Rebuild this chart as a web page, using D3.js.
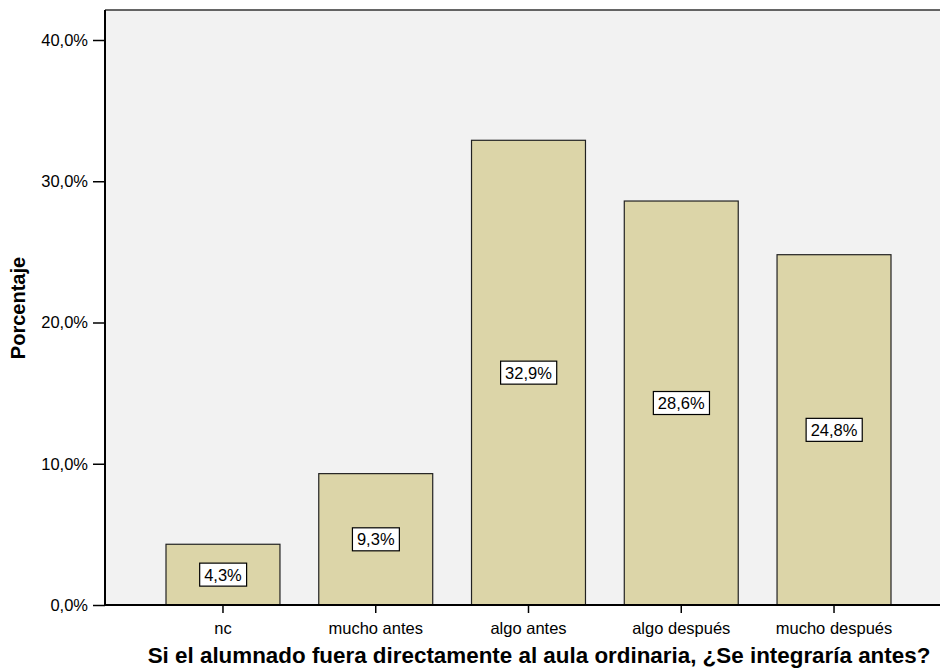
<!DOCTYPE html>
<html>
<head>
<meta charset="utf-8">
<script src="https://cdn.jsdelivr.net/npm/d3@7"></script>
<style>
  html, body { margin: 0; padding: 0; background: #fff; }
  svg { display: block; font-family: Arial, "Liberation Sans", sans-serif; }
</style>
</head>
<body>
<svg id="chart" width="940" height="668"></svg>
<script>
// Survey answers and their percentages
const categories = ["nc", "mucho antes", "algo antes", "algo después", "mucho después"];
const percentages = [4.3, 9.3, 32.9, 28.6, 24.8];
const yTicks = [0, 10, 20, 30, 40];
const yTitle = "Porcentaje";
const xTitle = "Si el alumnado fuera directamente al aula ordinaria, ¿Se integraría antes?";

const svg = d3.select("#chart");
const FONT = "Arial, 'Liberation Sans', sans-serif";
const plot = { left: 105, right: 940, top: 10, bottom: 605 };

const fmt = v => d3.format(".1f")(v).replace(".", ",") + "%";

const y = d3.scaleLinear().domain([0, 40]).range([605, 40]);
const x = d3.scaleBand()
  .domain(categories)
  .range([146.6, 910.4])
  .paddingInner(0.254)
  .paddingOuter(0.127);

// plot background
svg.append("rect")
  .attr("x", plot.left).attr("y", plot.top)
  .attr("width", plot.right - plot.left).attr("height", plot.bottom - plot.top)
  .attr("fill", "#f2f2f2");

// top frame line
svg.append("line")
  .attr("x1", plot.left).attr("x2", plot.right)
  .attr("y1", plot.top).attr("y2", plot.top)
  .attr("stroke", "#333").attr("stroke-width", 1.5);

// bars
svg.append("g").selectAll("rect")
  .data(percentages)
  .join("rect")
  .attr("x", (d, i) => x(categories[i]))
  .attr("y", d => y(d))
  .attr("width", x.bandwidth())
  .attr("height", d => y(0) - y(d))
  .attr("fill", "#dcd5a8")
  .attr("stroke", "#222")
  .attr("stroke-width", 1.2);

// value labels in boxes at mid-height
const lab = svg.append("g").selectAll("g")
  .data(percentages)
  .join("g")
  .attr("transform", (d, i) => `translate(${x(categories[i]) + x.bandwidth() / 2},${(y(d) + y(0)) / 2})`);
lab.append("text")
  .attr("text-anchor", "middle")
  .attr("dy", "0.36em")
  .attr("font-size", 16.5)
  .attr("font-family", FONT)
  .attr("fill", "#000")
  .text(d => fmt(d));
lab.each(function() {
  const g = d3.select(this);
  const bb = g.select("text").node().getBBox();
  g.insert("rect", "text")
    .attr("x", bb.x - 4.5).attr("y", -11.5)
    .attr("width", bb.width + 9).attr("height", 23)
    .attr("fill", "#fff").attr("stroke", "#000").attr("stroke-width", 1.2);
});

// y axis
const yAxis = svg.append("g")
  .attr("transform", `translate(${plot.left},0)`)
  .call(d3.axisLeft(y).tickValues(yTicks).tickFormat(fmt).tickSize(12).tickPadding(5));
yAxis.select(".domain").attr("d", `M0,${plot.top}V${plot.bottom}`).attr("stroke", "#000").attr("stroke-width", 2);
yAxis.selectAll(".tick line").attr("stroke", "#000").attr("stroke-width", 1.5);
yAxis.selectAll(".tick text").attr("font-size", 16.5).attr("fill", "#000").attr("font-family", FONT);

// x axis
const xAxis = svg.append("g")
  .attr("transform", `translate(0,${plot.bottom})`)
  .call(d3.axisBottom(x).tickSize(8).tickPadding(9));
xAxis.select(".domain").attr("d", `M${plot.left},0H${plot.right}`).attr("stroke", "#000").attr("stroke-width", 2);
xAxis.selectAll(".tick line").attr("stroke", "#000").attr("stroke-width", 1.5);
xAxis.selectAll(".tick text").attr("font-size", 16.5).attr("fill", "#000").attr("font-family", FONT);

// axis titles
svg.append("text")
  .attr("transform", "translate(25,308) rotate(-90)")
  .attr("text-anchor", "middle")
  .attr("font-size", 20).attr("font-weight", "bold").attr("font-family", FONT)
  .text(yTitle);

svg.append("text")
  .attr("x", 539).attr("y", 663)
  .attr("text-anchor", "middle")
  .attr("font-size", 22.4).attr("font-weight", "bold").attr("font-family", FONT)
  .text(xTitle);
</script>
</body>
</html>
